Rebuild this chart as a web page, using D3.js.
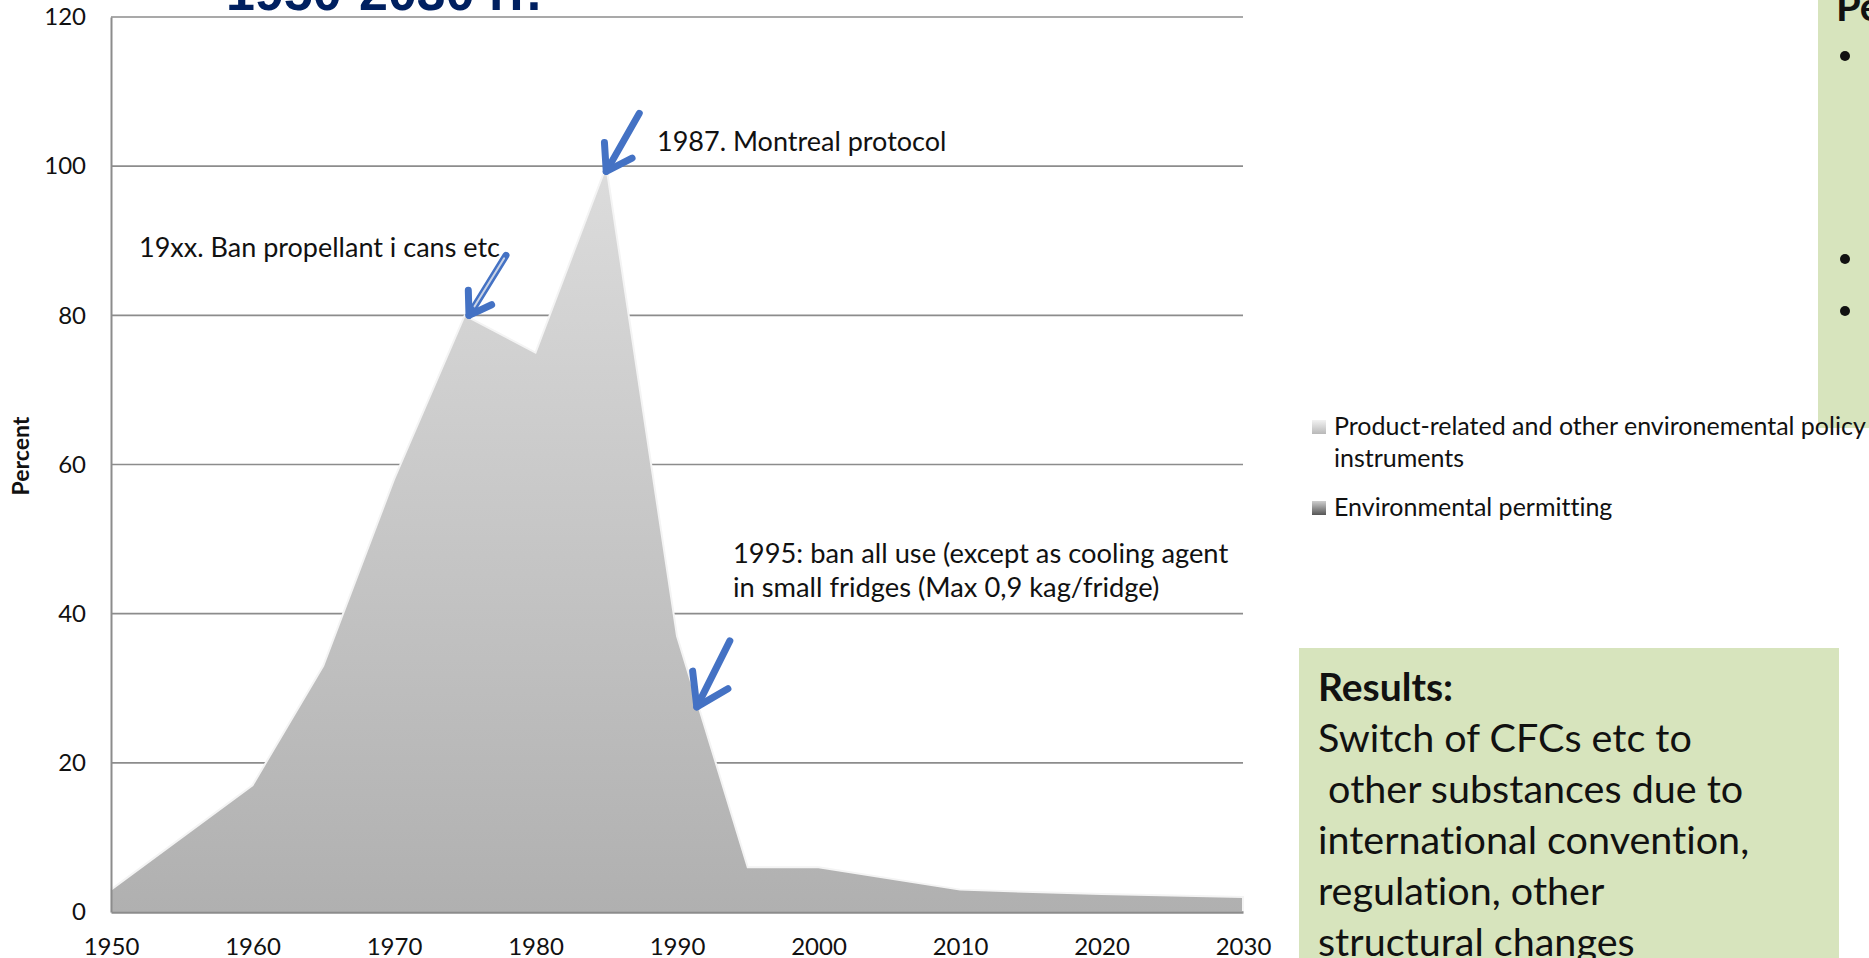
<html>
  <head>
    <style>
      body { margin: 0; background: white; }
      text { font-family: Lato, "Open Sans", sans-serif; fill: #111; font-variant-ligatures: none; font-feature-settings: "liga" 0; }
    </style>
  </head>
  <body>
    <script src="https://d3js.org/d3.v7.min.js"></script>
    <script>
    // values
    var years = [1950, 1960, 1965, 1970, 1975, 1980, 1985, 1990, 1995, 2000, 2010, 2020, 2030];
    var productRelated = [3, 17, 33, 58, 80, 75, 100, 37, 6, 6, 3, 2.4, 2];
    var permitting = [0, 0, 0, 0, 0, 0, 0, 0, 0, 0, 0, 0, 0];
    var xTicks = [1950, 1960, 1970, 1980, 1990, 2000, 2010, 2020, 2030];
    var yTicks = [0, 20, 40, 60, 80, 100, 120];
    var seriesNames = ["Product-related and other environemental policy|instruments", "Environmental permitting"];
    var resultLines = ["Switch of CFCs etc to", " other substances due to", "international convention,", "regulation, other", "structural changes"];

    // annotation arrows: tip in data units, tail offset in px
    var notes = [
      {year: 1985, value: 99.3, dx: 33, dy: -58, w: 7, arm: 29, dbl: false},
      {year: 1975.3, value: 80, dx: 37, dy: -60, w: 7, arm: 25, dbl: true},
      {year: 1991.4, value: 27.5, dx: 33, dy: -66, w: 7, arm: 36, dbl: false}
    ];

    var width = 1869, height = 958;

    var svg = d3.select("body").append("svg")
        .attr("width", width)
        .attr("height", height);

    var x = d3.scaleLinear().domain([1950, 2030]).range([111, 1243]);
    var y = d3.scaleLinear().domain([0, 120]).range([912, 17]);

    var defs = svg.append("defs");

    var g1 = defs.append("linearGradient")
        .attr("id", "areaFill")
        .attr("gradientUnits", "userSpaceOnUse")
        .attr("x1", 0).attr("x2", 0)
        .attr("y1", y(100)).attr("y2", y(0));
    g1.append("stop").attr("offset", 0).attr("stop-color", "#dcdcdc");
    g1.append("stop").attr("offset", 1).attr("stop-color", "#b0b0b0");

    var g2 = defs.append("linearGradient")
        .attr("id", "swatch0").attr("x1", 0).attr("x2", 0).attr("y1", 0).attr("y2", 1);
    g2.append("stop").attr("offset", 0).attr("stop-color", "#f2f2f2");
    g2.append("stop").attr("offset", 1).attr("stop-color", "#b8b8b8");

    var g3 = defs.append("linearGradient")
        .attr("id", "swatch1").attr("x1", 0).attr("x2", 0).attr("y1", 0).attr("y2", 1);
    g3.append("stop").attr("offset", 0).attr("stop-color", "#cfcfcf");
    g3.append("stop").attr("offset", 1).attr("stop-color", "#555555");

    // title, cut at the top
    svg.append("text")
        .attr("x", 226)
        .attr("y", 10)
        .style("font-family", "'Liberation Sans', Arial, sans-serif")
        .style("font-weight", "bold")
        .style("font-size", "52px")
        .style("fill", "#002060")
        .text("1950-2030 rr.");

    // gridlines
    svg.append("g")
        .selectAll("line")
        .data(yTicks.filter(function(d){ return d > 0; }))
        .enter().append("line")
          .attr("x1", x(1950))
          .attr("x2", x(2030))
          .attr("y1", function(d){ return y(d); })
          .attr("y2", function(d){ return y(d); })
          .attr("stroke", "#8c8c8c")
          .attr("stroke-width", 1.6);

    // stacked area
    var rows = years.map(function(yr, i) {
      return {year: yr, permitting: permitting[i], product: productRelated[i]};
    });
    var stack = d3.stack().keys(["permitting", "product"]);
    var layers = stack(rows);

    var area = d3.area()
        .x(function(d){ return x(d.data.year); })
        .y0(function(d){ return y(d[0]); })
        .y1(function(d){ return y(d[1]); });

    svg.append("path")
        .datum(layers[1])
        .attr("d", area)
        .attr("fill", "url(#areaFill)")
        .attr("stroke", "#f4f4f4")
        .attr("stroke-width", 2);

    svg.append("path")
        .datum(layers[0])
        .attr("d", area)
        .attr("fill", "url(#swatch1)");

    // axes
    var yAxis = svg.append("g")
        .attr("transform", "translate(" + x(1950) + ",0)")
        .call(d3.axisLeft(y).tickValues(yTicks).tickSize(0).tickPadding(25));
    yAxis.select(".domain").attr("stroke", "#8c8c8c").attr("stroke-width", 2);
    yAxis.selectAll("text")
        .style("font-family", "Lato, sans-serif")
        .style("font-size", "24px")
        .style("fill", "#111");

    var xAxis = svg.append("g")
        .attr("transform", "translate(0," + y(0) + ")")
        .call(d3.axisBottom(x).tickValues(xTicks).tickFormat(d3.format("d")).tickSize(0));
    xAxis.select(".domain").attr("stroke", "#8c8c8c").attr("stroke-width", 2.5);
    xAxis.selectAll("text")
        .attr("y", 43)
        .attr("dy", 0)
        .style("font-family", "Lato, sans-serif")
        .style("font-size", "24px")
        .style("fill", "#111");

    svg.append("text")
        .attr("transform", "translate(29,456) rotate(-90)")
        .attr("text-anchor", "middle")
        .style("font-weight", "bold")
        .style("font-size", "23px")
        .text("Percent");

    // annotation texts
    svg.append("text").attr("x", 657).attr("y", 151).style("font-size", "27px").text("1987. Montreal protocol");
    svg.append("text").attr("x", 139).attr("y", 257).style("font-size", "27px").text("19xx. Ban propellant i cans etc");
    svg.append("text").attr("x", 733).attr("y", 563).style("font-size", "27.3px").text("1995: ban all use (except as cooling agent");
    svg.append("text").attr("x", 733).attr("y", 597).style("font-size", "27.3px").text("in small fridges (Max 0,9 kag/fridge)");

    // arrows
    notes.forEach(function(n) {
      var tx = x(n.year), ty = y(n.value);
      var ang = Math.atan2(n.dy, n.dx);
      var a1 = ang - 0.58, a2 = ang + 0.58;
      var g = svg.append("g")
          .attr("fill", "none")
          .attr("stroke", "#4472c4")
          .attr("stroke-linecap", "round")
          .attr("stroke-linejoin", "round");
      g.append("path")
          .attr("d", "M" + (tx + n.dx) + "," + (ty + n.dy) + "L" + tx + "," + ty)
          .attr("stroke-width", n.w);
      g.append("path")
          .attr("d", "M" + (tx + n.arm * Math.cos(a1)) + "," + (ty + n.arm * Math.sin(a1)) +
                     "L" + tx + "," + ty +
                     "L" + (tx + n.arm * Math.cos(a2)) + "," + (ty + n.arm * Math.sin(a2)))
          .attr("stroke-width", n.w);
      if (n.dbl) {
        g.append("path")
            .attr("d", "M" + (tx + n.dx * 0.95) + "," + (ty + n.dy * 0.95) + "L" + (tx + n.dx * 0.15) + "," + (ty + n.dy * 0.15))
            .attr("stroke", "#c9d3e6")
            .attr("stroke-width", 2);
      }
    });

    // green boxes
    svg.append("rect")
        .attr("x", 1818).attr("y", -5)
        .attr("width", 60).attr("height", 433)
        .attr("fill", "#d7e4bd");
    svg.append("text")
        .attr("x", 1836).attr("y", 21)
        .style("font-weight", "bold")
        .style("font-size", "40px")
        .text("Pe");
    svg.append("g")
        .selectAll("circle")
        .data([56, 259, 311])
        .enter().append("circle")
          .attr("cx", 1845)
          .attr("cy", function(d){ return d; })
          .attr("r", 5)
          .attr("fill", "#111");

    // legend
    var legend = svg.append("g");
    seriesNames.forEach(function(name, i) {
      var top = [420, 501][i];
      legend.append("rect")
          .attr("x", 1312).attr("y", top)
          .attr("width", 14).attr("height", 14)
          .attr("fill", "url(#swatch" + i + ")");
      name.split("|").forEach(function(line, j) {
        legend.append("text")
            .attr("x", 1334)
            .attr("y", top + 15 + j * 32)
            .style("font-size", "25px")
            .text(line);
      });
    });

    svg.append("rect")
        .attr("x", 1299).attr("y", 648)
        .attr("width", 540).attr("height", 320)
        .attr("fill", "#d7e4bd");
    svg.append("text")
        .attr("x", 1318).attr("y", 701)
        .style("font-weight", "bold")
        .style("font-size", "39px")
        .text("Results:");
    svg.append("g")
        .selectAll("text")
        .data(resultLines)
        .enter().append("text")
          .attr("x", 1318)
          .attr("y", function(d, i){ return 752 + i * 51; })
          .attr("xml:space", "preserve")
          .style("white-space", "pre")
          .style("font-size", "39.5px")
          .text(function(d){ return d; });
    </script>
  </body>
</html>
